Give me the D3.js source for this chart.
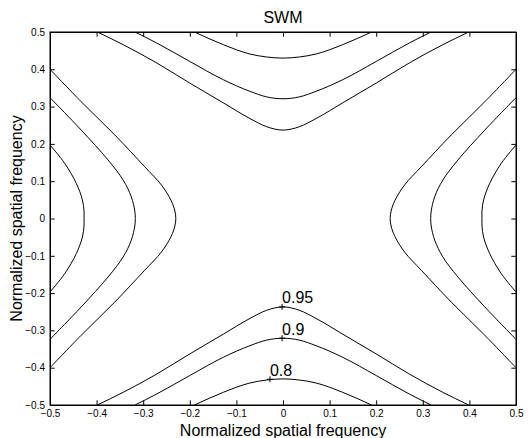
<!DOCTYPE html>
<html>
<head>
<meta charset="utf-8">
<script src="https://cdn.jsdelivr.net/npm/d3@7"></script>
<style>
  html, body { margin: 0; padding: 0; background: #fff; }
  svg { display: block; }
  text { font-family: "Liberation Sans", Arial, Helvetica, sans-serif; fill: #000; }
</style>
</head>
<body>
<script>
// ---- data ----
const title = "SWM";
const xLabel = "Normalized spatial frequency";
const yLabel = "Normalized spatial frequency";
const xTicks = [-0.5, -0.4, -0.3, -0.2, -0.1, 0, 0.1, 0.2, 0.3, 0.4, 0.5];
const yTicks = [-0.5, -0.4, -0.3, -0.2, -0.1, 0, 0.1, 0.2, 0.3, 0.4, 0.5];
const levels = [0.95, 0.9, 0.8];

// upper branch (left half, from plot edge to x = 0) for each level
const top95 = [[-0.3985,0.5],[-0.343,0.466],[-0.271,0.417],[-0.2,0.363],[-0.128,0.310],[-0.071,0.268],[-0.035,0.246],[0,0.237]];
const top90 = [[-0.3176,0.5],[-0.271,0.4705],[-0.2,0.421],[-0.128,0.372],[-0.071,0.341],[-0.035,0.326],[0,0.321]];
const top80 = [[-0.19,0.5],[-0.128,0.466],[-0.071,0.441],[-0.035,0.433],[0,0.430]];

// left branch (upper half, from plot edge to y = 0) for each level
const side95 = [[-0.5,0.4],[-0.433,0.313],[-0.361,0.224],[-0.297,0.139],[-0.261,0.090],[-0.240,0.048],[-0.232,0.02],[-0.230,0]];
const side90 = [[-0.5,0.324],[-0.433,0.237],[-0.3755,0.157],[-0.343,0.103],[-0.3255,0.058],[-0.318,0.02],[-0.317,0]];
const side80 = [[-0.5,0.197],[-0.4685,0.148],[-0.4435,0.094],[-0.4305,0.050],[-0.427,0.02],[-0.427,0]];

// inline contour labels
const labelLevels = ["0.95", "0.9", "0.8"];
const labelX = [-0.002, -0.002, -0.028];
const labelY = [-0.237, -0.321, -0.431];

// ---- layout ----
const W = 531, H = 438;
const L = 50, R = 516, T = 32, B = 405;

const x = d3.scaleLinear().domain([-0.5, 0.5]).range([L, R]);
const y = d3.scaleLinear().domain([-0.5, 0.5]).range([B, T]);

const svg = d3.select("body").append("svg").attr("width", W).attr("height", H);
svg.append("rect").attr("width", W).attr("height", H).attr("fill", "#fff");

svg.append("defs").append("clipPath").attr("id", "clip")
  .append("rect").attr("x", L).attr("y", T).attr("width", R - L).attr("height", B - T);

// build full branches from half branches (mirror symmetry of the plot)
function fullTop(half) {
  const m = half.slice(0, -1).reverse().map(d => [-d[0], d[1]]);
  return half.concat(m);
}
function fullSide(half) {
  const m = half.slice(0, -1).reverse().map(d => [d[0], -d[1]]);
  return half.concat(m);
}
const curves = [];
[[top95, side95], [top90, side90], [top80, side80]].forEach(([t, s]) => {
  const tf = fullTop(t), sf = fullSide(s);
  curves.push(tf);
  curves.push(tf.map(d => [d[0], -d[1]]));
  curves.push(sf);
  curves.push(sf.map(d => [-d[0], d[1]]));
});

const line = d3.line().x(d => x(d[0])).y(d => y(d[1])).curve(d3.curveMonotoneX);
const lineV = d3.line().x(d => x(d[0])).y(d => y(d[1])).curve(d3.curveCatmullRom.alpha(0.5));

const g = svg.append("g").attr("clip-path", "url(#clip)");
g.selectAll("path.c").data(curves).enter().append("path")
  .attr("class", "c").attr("d", (d, i) => (i % 4 < 2 ? line(d) : lineV(d)))
  .attr("fill", "none").attr("stroke", "#000").attr("stroke-width", 1);

// ---- axes ----
const fmt = d => d3.format("")(d);
const tk = 4.7;
svg.append("g").attr("transform", `translate(0,${B})`)
  .call(d3.axisBottom(x).tickValues(xTicks).tickFormat(fmt).tickSizeInner(-tk).tickSizeOuter(0).tickPadding(5));
svg.append("g").attr("transform", `translate(0,${T})`)
  .call(d3.axisTop(x).tickValues(xTicks).tickFormat("").tickSizeInner(-tk).tickSizeOuter(0));
svg.append("g").attr("transform", `translate(${L},0)`)
  .call(d3.axisLeft(y).tickValues(yTicks).tickFormat(fmt).tickSizeInner(-tk).tickSizeOuter(0).tickPadding(5));
svg.append("g").attr("transform", `translate(${R},0)`)
  .call(d3.axisRight(y).tickValues(yTicks).tickFormat("").tickSizeInner(-tk).tickSizeOuter(0));

svg.selectAll(".tick text").style("font-size", "10px").style("font-family", "\"Liberation Sans\", Arial, sans-serif");
svg.selectAll(".domain").attr("stroke", "#000").attr("stroke-width", 1);
svg.selectAll(".tick line").attr("stroke", "#000").attr("stroke-width", 1);

// plot box
svg.append("rect").attr("x", L).attr("y", T).attr("width", R - L).attr("height", B - T)
  .attr("fill", "none").attr("stroke", "#000").attr("stroke-width", 1);

// ---- contour labels ----
labelLevels.forEach((lab, i) => {
  const px = x(labelX[i]), py = y(labelY[i]);
  svg.append("path").attr("d", `M${px - 3},${py}H${px + 3}M${px},${py - 3}V${py + 3}`)
    .attr("stroke", "#000").attr("stroke-width", 1).attr("fill", "none");
  svg.append("text").attr("x", px).attr("y", py - 3.5)
    .style("font-size", "16px").text(lab);
});

// ---- titles ----
svg.append("text").attr("x", (L + R) / 2).attr("y", 22.7).attr("text-anchor", "middle")
  .style("font-size", "16px").text(title);
svg.append("text").attr("x", (L + R) / 2).attr("y", 435.5).attr("text-anchor", "middle")
  .style("font-size", "16px").text(xLabel);
svg.append("text").attr("transform", `translate(21.5,${(T + B) / 2}) rotate(-90)`).attr("text-anchor", "middle")
  .style("font-size", "16px").text(yLabel);
</script>
</body>
</html>
